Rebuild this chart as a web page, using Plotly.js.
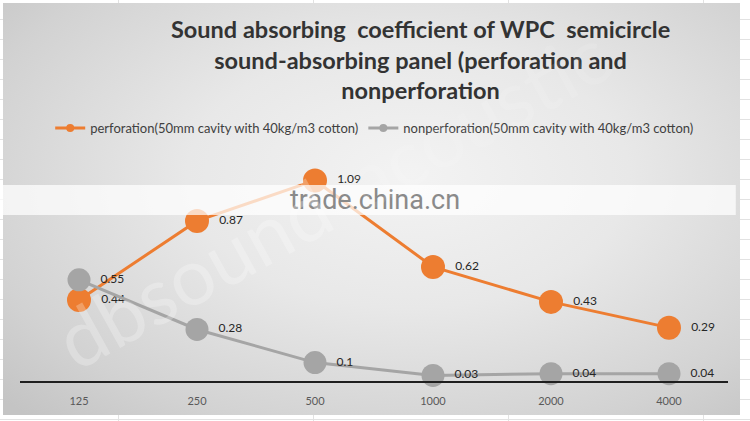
<!DOCTYPE html>
<html>
<head>
<meta charset="utf-8">
<script src="https://cdn.plot.ly/plotly-3.0.1.min.js"></script>
<style>
  html, body { margin:0; padding:0; }
  body {
    width:750px; height:421px; position:relative; overflow:hidden;
    background-color:#ffffff;
    background-image:
      repeating-linear-gradient(to right, transparent 0px, transparent 118px, #e2e2e2 118px, #e2e2e2 119px, transparent 119px, transparent 195px),
      repeating-linear-gradient(to bottom, transparent 0px, transparent 19px, #e2e2e2 19px, #e2e2e2 20px);
  }
  #frame {
    position:absolute; left:3px; top:3px; width:737px; height:412px;
    background: radial-gradient(ellipse 75% 80% at 55% 42%, #f3f3f3 0%, #e8e8e8 40%, #d2d2d2 80%, #c4c4c4 100%);
  }
  #chart { position:absolute; left:0; top:0; width:750px; height:421px; }
</style>
</head>
<body>
<div id="frame"></div>
<div id="chart"></div>
<script>
const categories = ['125', '250', '500', '1000', '2000', '4000'];
const perforation = [0.44, 0.87, 1.09, 0.62, 0.43, 0.29];
const nonperforation = [0.55, 0.28, 0.1, 0.03, 0.04, 0.04];
const seriesNames = [
  'perforation(50mm cavity with 40kg/m3 cotton)',
  'nonperforation(50mm cavity with 40kg/m3 cotton)'
];
const titleText = 'Sound absorbing  coefficient of WPC  semicircle<br>sound-absorbing panel (perforation and<br>nonperforation';
const orange = '#ED7D31';
const gray = '#A5A5A5';
const fontFam = 'Lato, "Open Sans", sans-serif';

const labelFont = {family: fontFam, size: 12, color: '#262626'};

const traces = [
  {
    x: categories, y: perforation, type: 'scatter', mode: 'lines+markers+text',
    name: seriesNames[0], showlegend: false,
    line: {color: orange, width: 3},
    marker: {color: orange, size: 24},
    text: perforation.map(v => '\u00a0\u00a0' + v),
    textposition: 'middle right', textfont: labelFont,
    cliponaxis: false, hoverinfo: 'skip'
  },
  {
    x: categories, y: nonperforation, type: 'scatter', mode: 'lines+markers+text',
    name: seriesNames[1], showlegend: false,
    line: {color: gray, width: 3},
    marker: {color: gray, size: 23},
    text: nonperforation.map(v => '\u00a0\u00a0' + v),
    textposition: 'middle right', textfont: labelFont,
    cliponaxis: false, hoverinfo: 'skip'
  },
  {
    x: [null], y: [null], type: 'scatter', mode: 'lines+markers',
    name: seriesNames[0], line: {color: orange, width: 3}, marker: {color: orange, size: 8}
  },
  {
    x: [null], y: [null], type: 'scatter', mode: 'lines+markers',
    name: seriesNames[1], line: {color: gray, width: 3}, marker: {color: gray, size: 8}
  }
];

const layout = {
  width: 750, height: 421,
  margin: {l: 20, r: 22, t: 151, b: 40},
  paper_bgcolor: 'rgba(0,0,0,0)',
  plot_bgcolor: 'rgba(0,0,0,0)',
  font: {family: fontFam, color: '#404040'},
  showlegend: true,
  legend: {
    orientation: 'h', x: 0.501, xanchor: 'center', y: 1.1, yanchor: 'middle',
    font: {family: fontFam, size: 13, color: '#404040'},
    bgcolor: 'rgba(0,0,0,0)', itemwidth: 30, traceorder: 'normal'
  },
  xaxis: {
    type: 'category', range: [-0.5, 5.5], fixedrange: true,
    showgrid: false, zeroline: false,
    showline: true, linecolor: '#1f1f1f', linewidth: 2,
    ticks: '', ticklabelstandoff: 9,
    tickfont: {family: fontFam, size: 11, color: '#595959'}
  },
  yaxis: {
    range: [0, 1.25], visible: false, fixedrange: true, showgrid: false, zeroline: false
  },
  shapes: [
    {
      type: 'rect', xref: 'paper', yref: 'paper',
      x0: -0.03, x1: 1.011, y0: 0.722, y1: 0.852,
      fillcolor: 'rgba(255,255,255,0.72)', line: {width: 0}, layer: 'above'
    }
  ],
  annotations: [
    {
      text: titleText, xref: 'paper', yref: 'paper',
      x: 0.565, y: 1.6, xanchor: 'center', yanchor: 'top', showarrow: false,
      align: 'center',
      font: {family: fontFam, size: 23.5, color: '#333333', weight: 'bold'}
    },
    {
      text: 'trade.china.cn', xref: 'paper', yref: 'paper',
      x: 0.501, y: 0.787, xanchor: 'center', yanchor: 'middle', showarrow: false,
      font: {family: 'Roboto, sans-serif', size: 27, color: '#8a8a8a'}
    },
    {
      text: 'dbsound', xref: 'paper', yref: 'paper',
      x: 0.245, y: 0.47, xanchor: 'center', yanchor: 'middle', showarrow: false,
      textangle: -29, opacity: 0.26,
      font: {family: fontFam, size: 79, color: '#ffffff'}
    },
    {
      text: 'acoustic', xref: 'paper', yref: 'paper',
      x: 0.645, y: 1.15, xanchor: 'center', yanchor: 'middle', showarrow: false,
      textangle: -29, opacity: 0.1,
      font: {family: fontFam, size: 79, color: '#ffffff'}
    }
  ],
  hovermode: false
};

Plotly.newPlot('chart', traces, layout, {displayModeBar: false, staticPlot: true});
</script>
</body>
</html>
